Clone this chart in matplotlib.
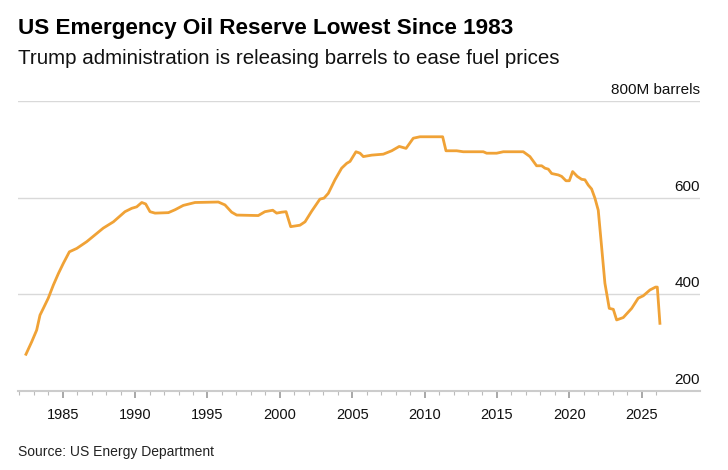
import matplotlib.pyplot as plt
import matplotlib.transforms as mtransforms

# reserve level, million barrels
years = [1982.46, 1982.86, 1983.20, 1983.43, 1983.66, 1984.00, 1984.35, 1984.70,
         1985.04, 1985.46, 1985.97, 1986.66, 1987.23, 1987.80, 1988.50, 1989.30,
         1989.77, 1990.11, 1990.46, 1990.73, 1991.03, 1991.38, 1992.30, 1992.76,
         1993.33, 1994.14, 1995.75, 1996.21, 1996.67, 1997.02, 1998.51, 1998.97,
         1999.51, 1999.78, 2000.13, 2000.43, 2000.75, 2001.39, 2001.74, 2002.20,
         2002.77, 2003.05, 2003.35, 2003.81, 2004.27, 2004.62, 2004.85, 2005.26,
         2005.54, 2005.77, 2006.35, 2007.15, 2007.73, 2008.25, 2008.72, 2009.22,
         2009.68, 2011.25, 2011.48, 2012.22, 2012.67, 2014.06, 2014.29, 2014.98,
         2015.44, 2016.82, 2017.28, 2017.74, 2018.09, 2018.32, 2018.55, 2018.78,
         2019.24, 2019.47, 2019.77, 2020.00, 2020.23, 2020.55, 2020.85, 2021.08,
         2021.31, 2021.54, 2021.77, 2022.00, 2022.23, 2022.46, 2022.76, 2023.04,
         2023.27, 2023.73, 2024.31, 2024.76, 2025.11, 2025.57, 2025.96, 2026.08,
         2026.26]
barrels = [276, 302, 326, 357, 371, 392, 419, 443,
           464, 488, 495, 509, 523, 537, 550, 571,
           578, 581, 590, 587, 571, 568, 569, 575,
           584, 590, 591, 585, 570, 564, 563, 571,
           574, 568, 570, 571, 540, 543, 550, 572,
           597, 599, 609, 637, 661, 671, 675, 695,
           692, 685, 688, 690, 697, 706, 702, 723,
           726, 726, 697, 697, 695, 695, 692, 692,
           695, 695, 685, 666, 666, 661, 659, 650,
           647, 644, 635, 635, 654, 644, 638, 637,
           626, 618, 599, 574, 499, 423, 371, 369,
           347, 352, 371, 392, 397, 409, 415, 415,
           340]

y_ticks = [200, 400, 600, 800]
y_labels = ['200', '400', '600', '800M barrels']
x_ticks = [1985, 1990, 1995, 2000, 2005, 2010, 2015, 2020, 2025]

plt.rcParams['font.family'] = ['Liberation Sans', 'DejaVu Sans']

fig = plt.figure(figsize=(7.28, 4.70), dpi=100)
ax = fig.add_axes([18 / 728, 1 - 391 / 470, 682 / 728, 290 / 470])

ax.plot(years, barrels, color='#F0A236', linewidth=2.0, solid_joinstyle='round')

ax.set_xlim(1981.91, 2029.03)
ax.set_ylim(200, 800)

for s in ['top', 'left', 'right']:
    ax.spines[s].set_visible(False)
ax.spines['bottom'].set_color('#cccccc')
ax.spines['bottom'].set_linewidth(1.5)

for v in y_ticks[1:]:
    ax.axhline(v, color='#d9d9d9', linewidth=1.0, zorder=0)
ax.set_yticks([])

# value labels sit just above their gridline, flush right
trans = mtransforms.blended_transform_factory(ax.transAxes, ax.transData)
for v, lab in zip(y_ticks, y_labels):
    ax.text(1.0, v + 8, lab, transform=trans, ha='right', va='bottom',
            fontsize=11, color='#111111')

ax.set_xticks(x_ticks)
ax.set_xticks(range(1982, 2027), minor=True)
ax.tick_params(axis='x', which='major', length=5, width=1.2, color='#999999',
               labelsize=10.5, labelcolor='#111111', pad=7)
ax.tick_params(axis='x', which='minor', length=3, width=0.8, color='#bbbbbb')

fig.text(18 / 728, 1 - 34 / 470, 'US Emergency Oil Reserve Lowest Since 1983',
         fontsize=16.2, fontweight='bold', color='#000000')
fig.text(18 / 728, 1 - 64 / 470, 'Trump administration is releasing barrels to ease fuel prices',
         fontsize=14.8, color='#111111')
fig.text(18 / 728, 1 - 456 / 470, 'Source: US Energy Department',
         fontsize=10, color='#222222')

fig.savefig('out.png', dpi=100)
